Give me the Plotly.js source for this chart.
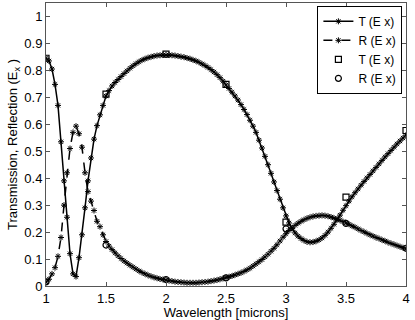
<!DOCTYPE html>
<html>
<head>
<meta charset="utf-8">
<script src="https://cdn.plot.ly/plotly-3.0.1.min.js"></script>
<style>
  html, body { margin: 0; padding: 0; background: #fff; }
  #chart { width: 415px; height: 320px; }
</style>
</head>
<body>
<div id="chart"></div>
<script>
// wavelength grid (microns)
const wavelength = [
  1.000, 1.025, 1.050, 1.075, 1.100, 1.125, 1.150, 1.175, 1.200, 1.225,
  1.250, 1.275, 1.300, 1.325, 1.350, 1.375, 1.400, 1.425, 1.450, 1.475,
  1.500, 1.525, 1.550, 1.575, 1.600, 1.625, 1.650, 1.675, 1.700, 1.725,
  1.750, 1.775, 1.800, 1.825, 1.850, 1.875, 1.900, 1.925, 1.950, 1.975,
  2.000, 2.025, 2.050, 2.075, 2.100, 2.125, 2.150, 2.175, 2.200, 2.225,
  2.250, 2.275, 2.300, 2.325, 2.350, 2.375, 2.400, 2.425, 2.450, 2.475,
  2.500, 2.525, 2.550, 2.575, 2.600, 2.625, 2.650, 2.675, 2.700, 2.725,
  2.750, 2.775, 2.800, 2.825, 2.850, 2.875, 2.900, 2.925, 2.950, 2.975,
  3.000, 3.025, 3.050, 3.075, 3.100, 3.125, 3.150, 3.175, 3.200, 3.225,
  3.250, 3.275, 3.300, 3.325, 3.350, 3.375, 3.400, 3.425, 3.450, 3.475,
  3.500, 3.525, 3.550, 3.575, 3.600, 3.625, 3.650, 3.675, 3.700, 3.725,
  3.750, 3.775, 3.800, 3.825, 3.850, 3.875, 3.900, 3.925, 3.950, 3.975,
  4.000
];

// transmission, simulated
const transT = [
  0.845, 0.835, 0.805, 0.748, 0.670, 0.535, 0.390, 0.255, 0.120, 0.045,
  0.035, 0.105, 0.190, 0.290, 0.390, 0.475, 0.545, 0.595, 0.635, 0.670,
  0.705, 0.725, 0.742, 0.755, 0.766, 0.777, 0.788, 0.798, 0.808, 0.817,
  0.825, 0.832, 0.838, 0.843, 0.847, 0.850, 0.853, 0.855, 0.856, 0.857,
  0.857, 0.857, 0.856, 0.855, 0.853, 0.851, 0.849, 0.846, 0.843, 0.839,
  0.835, 0.830, 0.824, 0.818, 0.811, 0.803, 0.794, 0.784, 0.773, 0.760,
  0.746, 0.733, 0.719, 0.705, 0.690, 0.673, 0.655, 0.636, 0.615, 0.593,
  0.570, 0.541, 0.512, 0.481, 0.450, 0.418, 0.386, 0.354, 0.322, 0.290,
  0.260, 0.234, 0.213, 0.197, 0.185, 0.176, 0.169, 0.164, 0.162, 0.163,
  0.166, 0.171, 0.178, 0.188, 0.200, 0.214, 0.229, 0.246, 0.263, 0.281,
  0.298, 0.315, 0.331, 0.346, 0.360, 0.374, 0.388, 0.401, 0.414, 0.427,
  0.440, 0.453, 0.466, 0.479, 0.491, 0.503, 0.515, 0.527, 0.538, 0.549,
  0.560
];

// reflection, simulated
const reflR = [
  0.015, 0.025, 0.045, 0.068, 0.110, 0.180, 0.300, 0.420, 0.510, 0.570,
  0.593, 0.565, 0.515, 0.420, 0.350, 0.315, 0.280, 0.240, 0.220, 0.190,
  0.165, 0.148, 0.135, 0.123, 0.112, 0.102, 0.093, 0.085, 0.077, 0.070,
  0.063, 0.056, 0.050, 0.045, 0.040, 0.036, 0.032, 0.029, 0.026, 0.024,
  0.022, 0.020, 0.018, 0.016, 0.015, 0.014, 0.013, 0.012, 0.012, 0.012,
  0.012, 0.013, 0.014, 0.015, 0.016, 0.018, 0.020, 0.022, 0.025, 0.028,
  0.031, 0.034, 0.037, 0.041, 0.045, 0.049, 0.054, 0.060, 0.066, 0.074,
  0.082, 0.090, 0.098, 0.108, 0.118, 0.129, 0.140, 0.153, 0.167, 0.181,
  0.194, 0.206, 0.216, 0.225, 0.233, 0.240, 0.246, 0.251, 0.255, 0.258,
  0.260, 0.261, 0.262, 0.261, 0.259, 0.256, 0.252, 0.248, 0.244, 0.239,
  0.234, 0.229, 0.223, 0.218, 0.212, 0.206, 0.201, 0.195, 0.190, 0.185,
  0.180, 0.176, 0.171, 0.167, 0.162, 0.158, 0.154, 0.150, 0.146, 0.142,
  0.138
];

// measured points
const measX = [1.0, 1.5, 2.0, 2.5, 3.0, 3.5, 4.0];
const measT = [0.845, 0.712, 0.860, 0.748, 0.237, 0.330, 0.577];
const measR = [0.015, 0.152, 0.024, 0.030, 0.212, 0.232, 0.140];

const starMarker = { symbol: 'asterisk-open', size: 5, color: '#000', line: { color: '#000', width: 1 } };

const traces = [
  {
    x: wavelength, y: transT, mode: 'lines+markers', name: 'T (E x)',
    line: { color: '#000', width: 1.5 },
    marker: starMarker
  },
  {
    x: wavelength, y: reflR, mode: 'lines+markers', name: 'R (E x)',
    line: { color: '#000', width: 1.5, dash: 'dash' },
    marker: starMarker
  },
  {
    x: measX, y: measT, mode: 'markers', name: 'T (E x)',
    marker: { symbol: 'square-open', size: 6, color: '#000', line: { color: '#000', width: 1.2 } }
  },
  {
    x: measX, y: measR, mode: 'markers', name: 'R (E x)',
    marker: { symbol: 'circle-open', size: 6, color: '#000', line: { color: '#000', width: 1.2 } }
  }
];

const axisStyle = {
  showline: true,
  linecolor: '#555',
  linewidth: 1,
  mirror: 'ticks',
  ticks: 'inside',
  ticklen: 4,
  tickcolor: '#555',
  showgrid: false,
  zeroline: false,
  tickfont: { size: 13, color: '#000' }
};

const layout = {
  width: 415,
  height: 320,
  paper_bgcolor: '#fff',
  plot_bgcolor: '#fff',
  font: { family: 'Liberation Sans, Arial, sans-serif', size: 13, color: '#000' },
  margin: { l: 46, r: 9, t: 3, b: 34 },
  showlegend: true,
  legend: {
    x: 0.99, y: 0.99, xanchor: 'right', yanchor: 'top',
    bgcolor: '#fff', bordercolor: '#000', borderwidth: 1,
    font: { size: 12 }, tracegroupgap: 0, itemwidth: 30
  },
  xaxis: Object.assign({}, axisStyle, {
    range: [1, 4], tick0: 1, dtick: 0.5,
    title: { text: 'Wavelength [microns]', font: { size: 13 }, standoff: 1 }
  }),
  yaxis: Object.assign({}, axisStyle, {
    range: [0, 1.05], tick0: 0, dtick: 0.1,
    title: { text: 'Transmission, Reflection (E<sub>x</sub> )', font: { size: 13 }, standoff: 3 }
  })
};

Plotly.newPlot('chart', traces, layout, { displayModeBar: false, staticPlot: true });
</script>
</body>
</html>
